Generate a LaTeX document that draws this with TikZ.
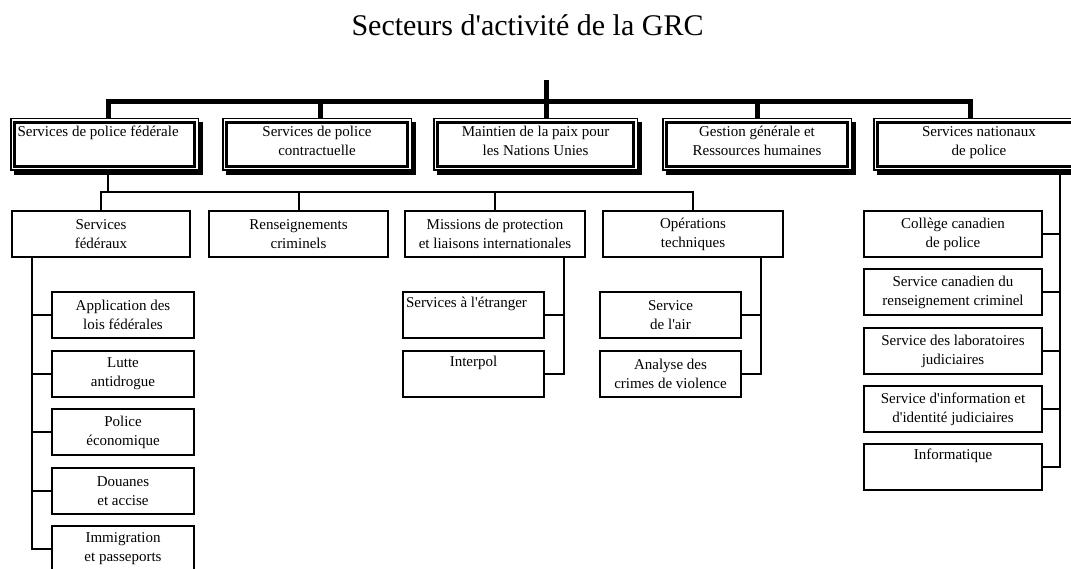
\documentclass[tikz,border=0pt]{standalone}
\usepackage{fontspec}
\setmainfont{Liberation Serif}[Ligatures=TeXOff]
\usetikzlibrary{backgrounds}
\tikzset{
  orgbox/.style={draw, line width=2pt, fill=white, align=center, inner sep=3pt,
    minimum height=46, font=\fontsize{15}{19}\selectfont},
  topbox/.style={orgbox, line width=3pt, inner ysep=0pt, minimum height=44,
    preaction={draw, fill, line width=9pt, transform canvas={shift={(4pt,-4pt)}}},
    preaction={draw, line width=9pt},
    preaction={draw=white, line width=6pt}},
  bus/.style={line width=5pt},
  link/.style={line width=2pt},
}
\begin{document}
\begin{tikzpicture}[x=1pt,y=-1pt]
  \useasboundingbox (0,0) rectangle (1071,568);
  \node[font=\fontsize{30}{36}\selectfont, anchor=base] (title) at (527.5,35) {Secteurs d'activité de la GRC};
  % secteurs
  \node[topbox, minimum width=180, text width=174, align=flush left] (psf) at (104.5,144) {Services de police fédérale\\\mbox{}\\[-13pt]\mbox{}};
  \node[topbox, minimum width=181] (spc) at (317,144) {Services de police\\contractuelle\\[-13pt]\mbox{}};
  \node[topbox, minimum width=196] (mnu) at (535.5,144) {Maintien de la paix pour\\les Nations Unies\\[-13pt]\mbox{}};
  \node[topbox, minimum width=181] (ggr) at (757,144) {Gestion générale et\\Ressources humaines\\[-13pt]\mbox{}};
  \node[topbox, minimum width=203] (snp) at (979,144) {Services nationaux\\de police\\[-13pt]\mbox{}};
  % police federale
  \node[orgbox, minimum width=178] (sf) at (101,234) {Services\\fédéraux};
  \node[orgbox, minimum width=179] (rc) at (298.5,234) {Renseignements\\criminels};
  \node[orgbox, minimum width=180] (mpl) at (495,234) {Missions de protection\\et liaisons internationales};
  \node[orgbox, minimum width=180] (ot) at (693,234) {Opérations\\techniques};
  \node[orgbox, minimum width=142] (app) at (123,315) {Application des\\lois fédérales};
  \node[orgbox, minimum width=142] (lad) at (123,374) {Lutte\\antidrogue};
  \node[orgbox, minimum width=142] (pe) at (123,432) {Police\\économique};
  \node[orgbox, minimum width=142] (dea) at (123,491) {Douanes\\et accise};
  \node[orgbox, minimum width=142] (imm) at (123,549) {Immigration\\et passeports};
  \node[orgbox, minimum width=141, text width=135, align=flush left] (sae) at (473.5,315) {Services à l'étranger\\\strut};
  \node[orgbox, minimum width=141] (ip) at (473.5,374) {Interpol\\\strut};
  \node[orgbox, minimum width=141] (sda) at (670.5,315) {Service\\de l'air};
  \node[orgbox, minimum width=141] (acv) at (670.5,374) {Analyse des\\crimes de violence};
  % services nationaux
  \node[orgbox, minimum width=178] (ccp) at (953,234) {Collège canadien\\de police};
  \node[orgbox, minimum width=178] (scr) at (953,292) {Service canadien du\\renseignement criminel};
  \node[orgbox, minimum width=178] (slj) at (953,351) {Service des laboratoires\\judiciaires};
  \node[orgbox, minimum width=178] (sij) at (953,409) {Service d'information et\\d'identité judiciaires};
  \node[orgbox, minimum width=178] (inf) at (953,467) {Informatique\\\strut};
  \begin{scope}[on background layer]
    \coordinate (root) at (546,80);
    \coordinate (bar) at (546,101);
    \draw[bus] (root) -- (root |- mnu.north);
    \draw[bus] ([xshift=3.5pt]psf.north) |- (bar) -| ([xshift=-9pt]snp.north);
    \draw[bus] ([xshift=3pt]spc.north) -- ([xshift=3pt]spc.north |- bar);
    \draw[bus] (ggr.north) -- (ggr.north |- bar);
    \draw[link] (sf.north) -- ++(0,-18) coordinate (fork) -| (ot.north);
    \draw[link] ([xshift=3.5pt]psf.south) -- ([xshift=3.5pt]psf.south |- fork);
    \draw[link] (rc.north) -- (rc.north |- fork);
    \draw[link] (mpl.north) -- (mpl.north |- fork);
    \coordinate (lsp) at ([xshift=21pt]sf.south west);
    \draw[link] (lsp) |- (imm.west);
    \foreach \n in {app,lad,pe,dea}
      \draw[link] (\n.west) -- (\n.west -| lsp);
    \coordinate (msp) at ([xshift=-22pt]mpl.south east);
    \draw[link] (msp) |- (ip.east);
    \draw[link] (sae.east) -- (sae.east -| msp);
    \coordinate (osp) at ([xshift=-23pt]ot.south east);
    \draw[link] (osp) |- (acv.east);
    \draw[link] (sda.east) -- (sda.east -| osp);
    \coordinate (rsp) at ([xshift=81pt]snp.south);
    \draw[link] (rsp) |- (inf.east);
    \foreach \n in {ccp,scr,slj,sij}
      \draw[link] (\n.east) -- (\n.east -| rsp);
  \end{scope}
\end{tikzpicture}
\end{document}
